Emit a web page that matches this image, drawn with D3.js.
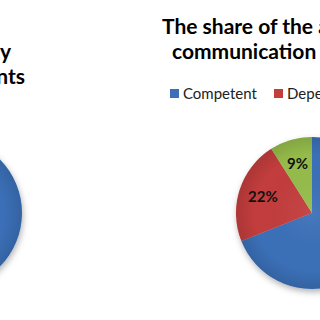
<!DOCTYPE html>
<html>
<head>
<meta charset="utf-8">
<script src="https://cdn.jsdelivr.net/npm/d3@7"></script>
<style>
  html, body { margin: 0; padding: 0; background: #fff; }
  svg { display: block; font-family: Lato, "Open Sans", sans-serif; }
</style>
</head>
<body>
<svg id="chart"></svg>
<script>
const categories = ["Competent", "Dependent", "Incompetent"];
const colors = ["#3b70b8", "#c33d3c", "#95bc4c"];
const leftValues = [100, 0, 0];
const rightValues = [69, 22, 9];
const leftTitle = ["The share of the assessed level of", "communication ability", "of students"];
const rightTitle = ["The share of the assessed level of", "communication skills of adults"];

const width = 320, height = 320;
const radius = 76;

const svg = d3.select("#chart").attr("width", width).attr("height", height);
svg.append("rect").attr("width", width).attr("height", height).attr("fill", "#fff");

const defs = svg.append("defs");
const shadow = defs.append("filter").attr("id", "shadow").attr("x", "-20%").attr("y", "-20%").attr("width", "140%").attr("height", "140%");
shadow.append("feDropShadow").attr("dx", 1).attr("dy", 3).attr("stdDeviation", 3).attr("flood-color", "#000").attr("flood-opacity", 0.3);
const shade = defs.append("radialGradient").attr("id", "shade");
shade.append("stop").attr("offset", "0%").attr("stop-color", "#fff").attr("stop-opacity", 0.06);
shade.append("stop").attr("offset", "75%").attr("stop-color", "#000").attr("stop-opacity", 0.0);
shade.append("stop").attr("offset", "100%").attr("stop-color", "#000").attr("stop-opacity", 0.12);

const pie = d3.pie().sort(null).value(d => d);
const arc = d3.arc().innerRadius(0).outerRadius(radius);
const labelArc = d3.arc().innerRadius(radius * 0.68).outerRadius(radius * 0.68);

function drawPie(cx, cy, values) {
    const g = svg.append("g").attr("transform", `translate(${cx},${cy})`);
    const slices = g.append("g").attr("filter", "url(#shadow)");
    slices.selectAll("path").data(pie(values)).enter().append("path")
        .attr("d", arc).attr("fill", (d, i) => colors[i]);
    g.append("circle").attr("r", radius).attr("fill", "url(#shade)");
    g.selectAll(".lbl").data(pie(values).filter(d => d.value > 0 && d.value < 100)).enter().append("text")
        .attr("transform", d => `translate(${labelArc.centroid(d)})`)
        .attr("text-anchor", "middle").attr("dy", "0.35em")
        .style("font-size", "15px").style("font-weight", "bold").attr("fill", "#111")
        .text(d => d.value + "%");
}

drawPie(-54, 213, leftValues);
drawPie(312, 213, rightValues);

// titles
const titleSize = 21;
svg.append("g").selectAll("text").data(leftTitle).enter().append("text")
    .attr("x", (d, i) => [-30, 11, 25][i]).attr("y", (d, i) => 34 + i * 25)
    .attr("text-anchor", "end").style("font-size", titleSize + "px").style("font-weight", "bold")
    .attr("fill", "#000").text(d => d);
svg.append("g").selectAll("text").data(rightTitle).enter().append("text")
    .attr("x", (d, i) => [162, 172][i]).attr("y", (d, i) => 34 + i * 25)
    .style("font-size", titleSize + "px").style("font-weight", "bold")
    .attr("fill", "#000").text(d => d);

// legend
const legendX = [170, 274, 380];
const legend = svg.append("g").selectAll("g").data(categories).enter().append("g")
    .attr("transform", (d, i) => `translate(${legendX[i]},89)`);
legend.append("rect").attr("width", 9).attr("height", 9).attr("fill", (d, i) => colors[i]);
legend.append("text").attr("x", 13).attr("y", 9.5).style("font-size", "15px").attr("fill", "#222").text(d => d);
</script>
</body>
</html>
